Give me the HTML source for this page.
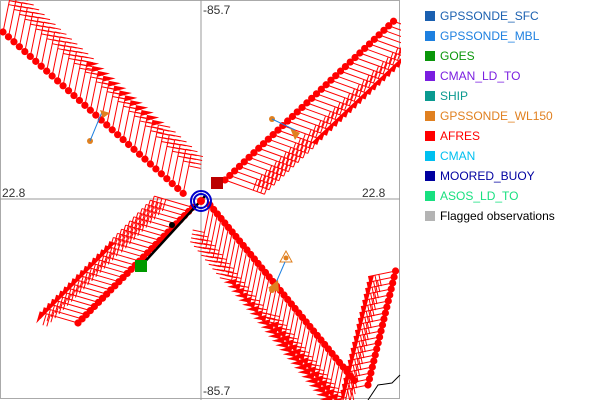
<!DOCTYPE html>
<html><head><style>
body{margin:0;background:#fff;font-family:"Liberation Sans",sans-serif;}
#c{position:relative;width:600px;height:400px;overflow:hidden}
.lg{position:absolute;left:425px;font-size:12px}
.lg i{position:absolute;left:0;top:2px;width:10px;height:10px}
.lg span{position:absolute;left:15px;top:0;white-space:nowrap}
.t{position:absolute;font-size:12px;color:#333}
</style></head><body><div id="c">
<svg id="s" width="401" height="400" style="position:absolute;left:0;top:0">
<rect x="0.5" y="0.5" width="399" height="398" fill="none" stroke="#aaa"/>
<line x1="201" y1="0" x2="201" y2="400" stroke="#999"/>
<line x1="0" y1="199" x2="400" y2="199" stroke="#999"/>
<g id="g" stroke="#f00" stroke-width="1" fill="#f00"></g>
<polyline points="368,400 378,385 392,383 400,375" stroke="#000" fill="none"/>
<line x1="140" y1="267" x2="206" y2="195" stroke="#000" stroke-width="2.5"/>
<circle cx="172" cy="225" r="3" fill="#000"/>
<circle cx="201" cy="201" r="7" fill="none" stroke="#00c" stroke-width="2"/>
<circle cx="201" cy="201" r="10" fill="none" stroke="#00c" stroke-width="2"/>
<circle cx="201" cy="201" r="4" fill="#f00"/>
<rect x="211" y="177" width="12" height="12" fill="#b00"/>
<rect x="135" y="260" width="12" height="12" fill="#090"/>
<polygon points="286,251 280,262 292,262" fill="none" stroke="#e08020"/>
<circle cx="286" cy="258" r="2.5" fill="#e08020"/>
<circle cx="272" cy="119" r="3" fill="#e08020"/><circle cx="90" cy="141" r="3" fill="#e08020"/>
<circle cx="272" cy="290" r="3" fill="#e08020"/>
<line x1="90" y1="141" x2="102" y2="112" stroke="#1e80e0"/>
<polygon points="100,110 110,113 103,118" fill="#e08020"/>
<polygon points="290,128 300,133 295,140" fill="#e08020"/>
<line x1="272" y1="119" x2="295" y2="130" stroke="#1e80e0"/>
<line x1="285" y1="262" x2="275" y2="285" stroke="#1e80e0"/>
<polygon points="268,288 278,280 279,292" fill="#e08020"/>
</svg>
<div class="t" style="left:203px;top:3px">-85.7</div>
<div class="t" style="left:203px;top:384px">-85.7</div>
<div class="t" style="left:2px;top:186px">22.8</div>
<div class="t" style="left:362px;top:186px">22.8</div>
</div>
<script>
var L=[["GPSSONDE_SFC","#1a60b0"],["GPSSONDE_MBL","#1e80e0"],["GOES","#0a960a"],["CMAN_LD_TO","#7a1ee0"],["SHIP","#0a9a90"],["GPSSONDE_WL150","#e08020"],["AFRES","#ff0000"],["CMAN","#00c0f0"],["MOORED_BUOY","#0000a0"],["ASOS_LD_TO","#18e080"],["Flagged observations","#b4b4b4"]];
var c=document.getElementById('c');
L.forEach(function(l,i){var d=document.createElement('div');d.className='lg';d.style.top=(9+20*i)+'px';
d.innerHTML='<i style="background:'+l[1]+'"></i><span style="color:'+(i==10?'#000':l[1])+'">'+l[0]+'</span>';c.appendChild(d);});
var g=document.getElementById('g'),h='';
function barb(x,y,dx,dy,px,py,len,fl,nb){var ex=x+dx*len,ey=y+dy*len;
h+='<line x1="'+x+'" y1="'+y+'" x2="'+ex+'" y2="'+ey+'"/>';
var k=0;
for(var f=0;f<fl;f++){var bx=ex-dx*k,by=ey-dy*k;var cx=bx-dx*6,cy=by-dy*6;
h+='<polygon stroke="none" points="'+bx+','+by+' '+(bx+px*12)+','+(by+py*12)+' '+cx+','+cy+'"/>';k+=7;}
for(var b=0;b<nb;b++){var bx=ex-dx*k,by=ey-dy*k;h+='<line x1="'+bx+'" y1="'+by+'" x2="'+(bx+px*12)+'" y2="'+(by+py*12)+'"/>';k+=4;}
}
function dot(x,y){h+='<circle cx="'+x+'" cy="'+y+'" r="3.6" stroke="none"/>';}
var D=[];
// NW
for(var t=0;t<=1;t+=0.03){var x=3+t*182,y=32+t*163;var f=(t>0.4&&t<0.8)?1:0;barb(x,y,0.2,-0.98,0.98,0.2,40,f,f?2:4);D.push([x,y]);}
// SE
for(var t=0;t<=1;t+=0.025){var x=210+t*148,y=205+t*180;var f=t>0.2?(t>0.5?2:1):0;barb(x,y,-0.2,0.98,-0.98,-0.2,40,f,f?2:4);D.push([x,y]);}
// E branch
for(var t=0;t<=1;t+=0.05){var x=368+t*29,y=385-t*120;barb(x,y,-0.98,0.2,0.2,0.98,28,1,2);D.push([x,y]);}
// NE
for(var t=0;t<=1;t+=0.028){var x=225+t*172,y=180-t*162;var f=(t>0.3)?1:0;barb(x,y,0.94,0.34,0.34,-0.94,42,f,f?2:4);D.push([x,y]);}
// SW
for(var t=0;t<=1;t+=0.035){var x=78+t*117,y=323-t*118;var f=t<0.6?1:0;barb(x,y,-0.96,-0.28,-0.28,0.96,40,f,f?2:4);D.push([x,y]);}
D.forEach(function(p){dot(p[0],p[1]);});
g.innerHTML=h;
</script>
</body></html>
